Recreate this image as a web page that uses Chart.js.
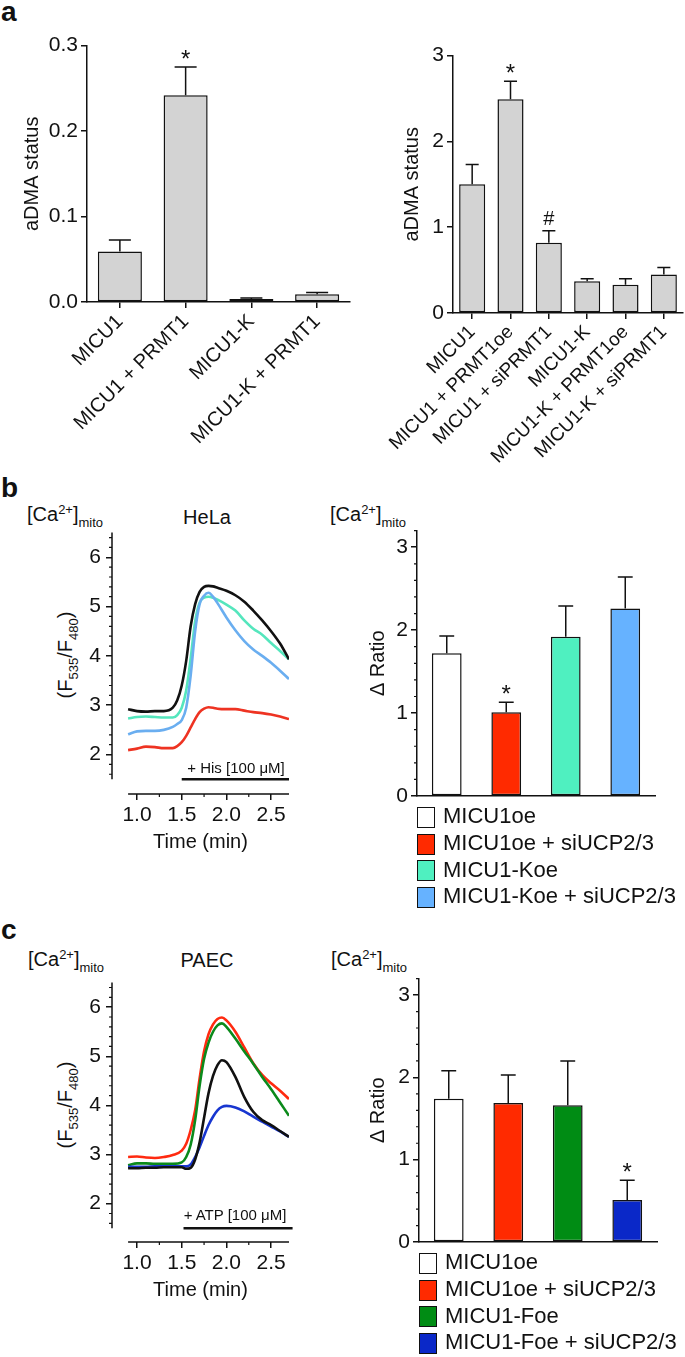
<!DOCTYPE html>
<html>
<head>
<meta charset="utf-8">
<script src="https://cdn.jsdelivr.net/npm/chart.js@4.4.1/dist/chart.umd.min.js"></script>
<style>
  body { margin: 0; background: #fff; }
  #fig { position: relative; width: 685px; height: 1357px; overflow: hidden; font-family: "Liberation Sans", Arial, sans-serif; color: #111; }
  #fig canvas, #fig .t { position: absolute; }
  .t { white-space: nowrap; line-height: 1; }
  .t sup, .t sub { font-size: 13px; line-height: 0; }
  .t sup { vertical-align: 7px; }
  .t sub { vertical-align: -6px; }
  .sq { position: absolute; width: 18px; height: 21px; border: 1.5px solid #111; box-sizing: border-box; }
</style>
</head>
<body>
<div id="fig"></div>
<script>
// ---- panel a (aDMA status) ----
const aLeftCats = ['MICU1', 'MICU1 + PRMT1', 'MICU1-K', 'MICU1-K + PRMT1'];
const aLeftVals = [0.059, 0.242, 0.0035, 0.009];
const aLeftErr = [0.0135, 0.033, 0.0012, 0.002];
const aLeftMarks = ['', '*', '', ''];
const aLeftTicks = [0, 0.1, 0.2, 0.3];
const aLeftTickLabels = ['0.0', '0.1', '0.2', '0.3'];

const aRightCats = ['MICU1', 'MICU1 + PRMT1oe', 'MICU1 + siPRMT1', 'MICU1-K', 'MICU1-K + PRMT1oe', 'MICU1-K + siPRMT1'];
const aRightVals = [1.50, 2.49, 0.82, 0.37, 0.33, 0.45];
const aRightErr = [0.23, 0.21, 0.14, 0.03, 0.07, 0.08];
const aRightMarks = ['', '*', '#', '', '', ''];
const aRightTicks = [0, 1, 2, 3];

// ---- shared ticks for the traces / delta ratio ----
const timeTicks = [1.0, 1.5, 2.0, 2.5];
const timeTickLabels = ['1.0', '1.5', '2.0', '2.5'];
const timeMinor = [1.25, 1.75, 2.25];
const ratioTicks = [2, 3, 4, 5, 6];
const deltaTicks = [0, 1, 2, 3];

// ---- panel b (HeLa) ----
const bTime  = [0.9, 1.0, 1.1, 1.2, 1.3, 1.4, 1.45, 1.5, 1.55, 1.6, 1.65, 1.7, 1.75, 1.8, 1.85, 1.9, 2.0, 2.1, 2.2, 2.3, 2.4, 2.5, 2.6, 2.7];
const bBlack = [2.92, 2.88, 2.87, 2.88, 2.88, 2.95, 3.10, 3.40, 3.90, 4.60, 5.05, 5.30, 5.40, 5.42, 5.41, 5.38, 5.32, 5.23, 5.10, 4.92, 4.72, 4.50, 4.25, 3.93];
const bGreen = [2.73, 2.76, 2.77, 2.76, 2.75, 2.75, 2.80, 2.95, 3.30, 3.95, 4.70, 5.08, 5.18, 5.20, 5.18, 5.14, 5.04, 4.92, 4.72, 4.55, 4.43, 4.26, 4.10, 3.93];
const bBlue  = [2.41, 2.47, 2.48, 2.48, 2.50, 2.56, 2.62, 2.70, 2.95, 3.60, 4.50, 5.05, 5.22, 5.28, 5.20, 5.07, 4.78, 4.52, 4.30, 4.13, 4.00, 3.86, 3.70, 3.53];
const bRed   = [2.09, 2.12, 2.16, 2.15, 2.13, 2.13, 2.17, 2.25, 2.38, 2.55, 2.72, 2.86, 2.93, 2.96, 2.95, 2.93, 2.92, 2.92, 2.89, 2.86, 2.84, 2.81, 2.77, 2.72];
const bStim = [1.5, 2.7];
const bCats = ['MICU1oe', 'MICU1oe + siUCP2/3', 'MICU1-Koe', 'MICU1-Koe + siUCP2/3'];
const bVals = [1.72, 1.01, 1.92, 2.26];
const bErr = [0.21, 0.12, 0.37, 0.38];
const bMarks = ['', '*', '', ''];
const bBarColors = ['#ffffff', '#ff2a00', '#4ff0c0', '#66b2ff'];
const bLineColors = ['#111111', '#6aaef0', '#55e6bd', '#ee3322'];

// ---- panel c (PAEC) ----
const cTime  = [0.9, 1.0, 1.1, 1.2, 1.3, 1.4, 1.5, 1.55, 1.6, 1.65, 1.7, 1.75, 1.8, 1.85, 1.9, 1.95, 2.0, 2.1, 2.2, 2.3, 2.4, 2.5, 2.6, 2.7];
const cBlack = [2.72, 2.72, 2.73, 2.73, 2.74, 2.74, 2.74, 2.71, 2.73, 2.90, 3.25, 3.75, 4.25, 4.60, 4.82, 4.92, 4.88, 4.58, 4.17, 3.87, 3.70, 3.60, 3.48, 3.36];
const cBlue  = [2.75, 2.75, 2.75, 2.76, 2.76, 2.76, 2.76, 2.76, 2.80, 2.95, 3.15, 3.38, 3.60, 3.77, 3.90, 3.97, 3.99, 3.96, 3.88, 3.77, 3.67, 3.57, 3.47, 3.36];
const cGreen = [2.78, 2.82, 2.82, 2.81, 2.81, 2.81, 2.84, 2.95, 3.20, 3.70, 4.40, 4.95, 5.28, 5.50, 5.63, 5.67, 5.60, 5.36, 5.10, 4.85, 4.58, 4.33, 4.06, 3.79];
const cRed   = [2.95, 2.96, 2.94, 2.93, 2.95, 2.99, 3.08, 3.22, 3.50, 3.90, 4.55, 5.10, 5.45, 5.65, 5.76, 5.79, 5.73, 5.50, 5.18, 4.86, 4.62, 4.45, 4.30, 4.13];
const cStim = [1.52, 2.74];
const cCats = ['MICU1oe', 'MICU1oe + siUCP2/3', 'MICU1-Foe', 'MICU1-Foe + siUCP2/3'];
const cVals = [1.74, 1.69, 1.66, 0.51];
const cErr = [0.34, 0.34, 0.54, 0.24];
const cMarks = ['', '', '', '*'];
const cBarColors = ['#ffffff', '#ff2a00', '#008c14', '#0a28c8'];
const cLineColors = ['#111111', '#1836d0', '#0b8a1b', '#ff2a10'];

Chart.defaults.font.family = '"Liberation Sans", Arial, sans-serif';
Chart.defaults.color = '#111';
Chart.defaults.animation = false;

const FONT = '"Liberation Sans", Arial, sans-serif';
const fig = document.getElementById('fig');

function steps(from, to, step) {
  const out = [];
  for (let v = from; v <= to + 1e-9; v += step) {
    const r = Math.round(v * 100) / 100;
    if (Math.abs(r - Math.round(r)) > 1e-6) out.push(r);
  }
  return out;
}

function makeCanvas(l, t, w, h) {
  const c = document.createElement('canvas');
  c.width = w; c.height = h;
  c.style.left = l + 'px'; c.style.top = t + 'px';
  c.style.width = w + 'px'; c.style.height = h + 'px';
  fig.appendChild(c);
  return c;
}

function txt(html, x, base, size, align, extra) {
  const d = document.createElement('div');
  d.className = 't';
  d.innerHTML = html;
  d.style.left = x + 'px';
  d.style.top = (base - 0.85 * size) + 'px';
  d.style.fontSize = size + 'px';
  if (align === 'center') d.style.transform = 'translateX(-50%)';
  if (align === 'right') d.style.transform = 'translateX(-100%)';
  if (extra) Object.assign(d.style, extra);
  fig.appendChild(d);
  return d;
}

function rotTxt(html, cx, cy, size) {
  const d = document.createElement('div');
  d.className = 't';
  d.innerHTML = html;
  d.style.left = cx + 'px';
  d.style.top = cy + 'px';
  d.style.fontSize = size + 'px';
  d.style.transform = 'translate(-50%, -50%) rotate(-90deg)';
  fig.appendChild(d);
}

// error bars + significance marks drawn through the y scale
const errorBars = {
  id: 'errorBars',
  afterDatasetsDraw(chart, args, o) {
    if (!o || !o.err) return;
    const meta = chart.getDatasetMeta(0);
    const vals = chart.data.datasets[0].data;
    const y = chart.scales.y;
    const ctx = chart.ctx;
    ctx.save();
    ctx.strokeStyle = '#111'; ctx.fillStyle = '#111'; ctx.lineWidth = 1.5;
    ctx.textAlign = 'center'; ctx.textBaseline = 'alphabetic';
    meta.data.forEach((bar, i) => {
      const top = y.getPixelForValue(vals[i] + o.err[i]);
      const hw = bar.width / 4;
      ctx.beginPath();
      ctx.moveTo(bar.x, bar.y); ctx.lineTo(bar.x, top);
      ctx.moveTo(bar.x - hw, top); ctx.lineTo(bar.x + hw, top);
      ctx.stroke();
      const m = o.marks[i];
      if (m) {
        ctx.font = (m === '#' ? 20 : 24) + 'px ' + FONT;
        ctx.fillText(m, bar.x, top - (m === '#' ? 6 : 0));
      }
    });
    ctx.restore();
  }
};

// detached axis lines and minor ticks
const axisExtras = {
  id: 'axisExtras',
  afterDraw(chart, args, o) {
    if (!o || !o.on) return;
    const ctx = chart.ctx, a = chart.chartArea, x = chart.scales.x, y = chart.scales.y;
    ctx.save();
    ctx.strokeStyle = '#111'; ctx.lineWidth = 1.5;
    ctx.beginPath();
    if (o.xLine) { ctx.moveTo(x.getPixelForValue(o.xLine[0]), a.bottom); ctx.lineTo(x.getPixelForValue(o.xLine[1]), a.bottom); }
    if (o.yLine) { ctx.moveTo(a.left, y.getPixelForValue(o.yLine[0])); ctx.lineTo(a.left, y.getPixelForValue(o.yLine[1])); }
    ctx.stroke();
    ctx.lineWidth = 1.2;
    ctx.beginPath();
    (o.xMinor || []).forEach(v => { const p = x.getPixelForValue(v); ctx.moveTo(p, a.bottom); ctx.lineTo(p, a.bottom + 3); });
    (o.yMinor || []).forEach(v => { const p = y.getPixelForValue(v); ctx.moveTo(a.left, p); ctx.lineTo(a.left - 3, p); });
    ctx.stroke();
    ctx.restore();
  }
};

const tickGrid = { display: true, drawOnChartArea: false, drawTicks: true, tickLength: 6, color: '#111', lineWidth: 1.5, offset: false };
const solidBorder = { display: true, color: '#111', width: 1.5 };

function barChart(box, cats, vals, err, marks, colors, yMax, yTicks, yLabels, yTitle, o) {
  const c = makeCanvas(box.l, box.t, box.w, box.h);
  return new Chart(c, {
    type: 'bar',
    data: {
      labels: cats,
      datasets: [{
        data: vals, backgroundColor: colors, borderColor: '#111', borderWidth: 1.5,
        borderSkipped: false, barPercentage: o.barPct, categoryPercentage: 1
      }]
    },
    options: {
      responsive: false,
      layout: { autoPadding: false, padding: { top: box.pt, right: box.pr, left: 0, bottom: 0 } },
      plugins: {
        legend: { display: false }, tooltip: { enabled: false },
        errorBars: { err: err, marks: marks },
        axisExtras: { on: !!o.yMinor, yMinor: o.yMinor }
      },
      scales: {
        x: {
          grid: o.xTicks ? tickGrid : { display: false },
          border: solidBorder,
          ticks: o.xTicks
            ? { display: true, autoSkip: false, minRotation: 45, maxRotation: 45, font: { size: o.xFont }, padding: 2 }
            : { display: false },
          afterFit: s => { s.height = box.xh; }
        },
        y: {
          min: 0, max: yMax,
          grid: tickGrid, border: solidBorder,
          afterBuildTicks: s => { s.ticks = yTicks.map(v => ({ value: v })); },
          ticks: { font: { size: 21 }, padding: 3, callback: (v, i) => yLabels[i] },
          title: { display: true, text: yTitle, font: { size: 20 }, padding: { top: o.titlePad, bottom: 0 } },
          afterFit: s => { s.width = box.yw; }
        }
      }
    },
    plugins: [errorBars, axisExtras]
  });
}

function traceChart(box, time, series, colors, stim, yMin) {
  const c = makeCanvas(box.l, box.t, box.w, box.h);
  const sets = series.map((s, i) => ({
    data: time.map((t, k) => ({ x: t, y: s[k] })),
    borderColor: colors[i], borderWidth: 2.6, pointRadius: 0,
    cubicInterpolationMode: 'monotone', fill: false
  }));
  sets.push({
    data: [{ x: stim[0], y: 1.5 }, { x: stim[1], y: 1.5 }],
    borderColor: '#111', borderWidth: 2.5, pointRadius: 0, clip: false
  });
  return new Chart(c, {
    type: 'line',
    data: { datasets: sets },
    options: {
      responsive: false,
      layout: { autoPadding: false, padding: { top: box.pt, right: box.pr, left: 0, bottom: 0 } },
      plugins: {
        legend: { display: false }, tooltip: { enabled: false },
        axisExtras: { on: true, xLine: [0.9, 2.7], yLine: [1.5, 6.5], xMinor: timeMinor, yMinor: steps(1.6, 6.4, 0.2) }
      },
      scales: {
        x: {
          type: 'linear', min: 0.72, max: 2.7,
          grid: tickGrid, border: { display: false },
          afterBuildTicks: s => { s.ticks = timeTicks.map(v => ({ value: v })); },
          ticks: { font: { size: 21 }, padding: 3, callback: (v, i) => timeTickLabels[i] },
          title: { display: true, text: 'Time (min)', font: { size: 20 }, padding: { top: 0, bottom: 0 } },
          afterFit: s => { s.height = box.xh; }
        },
        y: {
          type: 'linear', min: yMin, max: 6.5,
          grid: tickGrid, border: { display: false },
          afterBuildTicks: s => { s.ticks = ratioTicks.map(v => ({ value: v })); },
          ticks: { font: { size: 21 }, padding: 5, callback: v => String(v) },
          afterFit: s => { s.width = box.yw; }
        }
      }
    },
    plugins: [axisExtras]
  });
}

function legend(cats, colors, x, top) {
  cats.forEach((name, i) => {
    const y = top + i * 26.7;
    const sq = document.createElement('div');
    sq.className = 'sq';
    sq.style.left = x + 'px'; sq.style.top = y + 'px';
    sq.style.background = colors[i];
    fig.appendChild(sq);
    txt(name, x + 26, y + 17, 22);
  });
}

const caLabel = '[Ca<sup>2+</sup>]<sub>mito</sub>';
const fLabel = '(F<sub>535</sub>/F<sub>480</sub>)';

// ---- panel a ----
txt('a', 1, 22, 28, null, { fontWeight: 'bold' });
barChart({ l: 0, t: 30, w: 352, h: 430, pt: 10, pr: 2, yw: 87, xh: 158 },
  aLeftCats, aLeftVals, aLeftErr, aLeftMarks, '#d3d3d3', 0.3, aLeftTicks, aLeftTickLabels, 'aDMA status',
  { barPct: 0.67, xTicks: true, titlePad: 20, xFont: 20 });
barChart({ l: 360, t: 40, w: 325, h: 440, pt: 12, pr: 2, yw: 93, xh: 167 },
  aRightCats, aRightVals, aRightErr, aRightMarks, '#d3d3d3', 3, aRightTicks, aRightTicks.map(String), 'aDMA status',
  { barPct: 0.68, xTicks: true, titlePad: 40, xFont: 19 });

// ---- panel b ----
txt('b', 1, 498, 28, null, { fontWeight: 'bold' });
txt(caLabel, 27, 521, 20);
txt('HeLa', 207, 524, 20, 'center');
rotTxt(fLabel, 65, 655, 20);
traceChart({ l: 0, t: 515, w: 300, h: 339, pt: 12, pr: 11, yw: 112, xh: 60 },
  bTime, [bBlack, bBlue, bGreen, bRed], bLineColors, bStim, 1.2);
txt('+ His [100 μM]', 236, 773, 15, 'center');
txt(caLabel, 330, 521, 20);
barChart({ l: 350, t: 515, w: 335, h: 300, pt: 14, pr: 30, yw: 67, xh: 19 },
  bCats, bVals, bErr, bMarks, bBarColors, 3.2, deltaTicks, deltaTicks.map(String), 'Δ Ratio',
  { barPct: 0.5, xTicks: false, titlePad: 16, yMinor: steps(0.2, 3.2, 0.2) });
legend(bCats, bBarColors, 417, 807);

// ---- panel c ----
txt('c', 1, 940, 28, null, { fontWeight: 'bold' });
txt(caLabel, 28, 966, 20);
txt('PAEC', 207, 967, 20, 'center');
rotTxt(fLabel, 65, 1105, 20);
traceChart({ l: 0, t: 965, w: 300, h: 337, pt: 12, pr: 11, yw: 112, xh: 60 },
  cTime, [cBlack, cBlue, cGreen, cRed], cLineColors, cStim, 1.22);
txt('+ ATP [100 μM]', 235, 1220, 15, 'center');
txt(caLabel, 331, 966, 20);
barChart({ l: 350, t: 963, w: 335, h: 300, pt: 12, pr: 28, yw: 69, xh: 21 },
  cCats, cVals, cErr, cMarks, cBarColors, 3.2, deltaTicks, deltaTicks.map(String), 'Δ Ratio',
  { barPct: 0.5, xTicks: false, titlePad: 16, yMinor: steps(0.2, 3.2, 0.2) });
legend(cCats, cBarColors, 419, 1253);
</script>
</body>
</html>
